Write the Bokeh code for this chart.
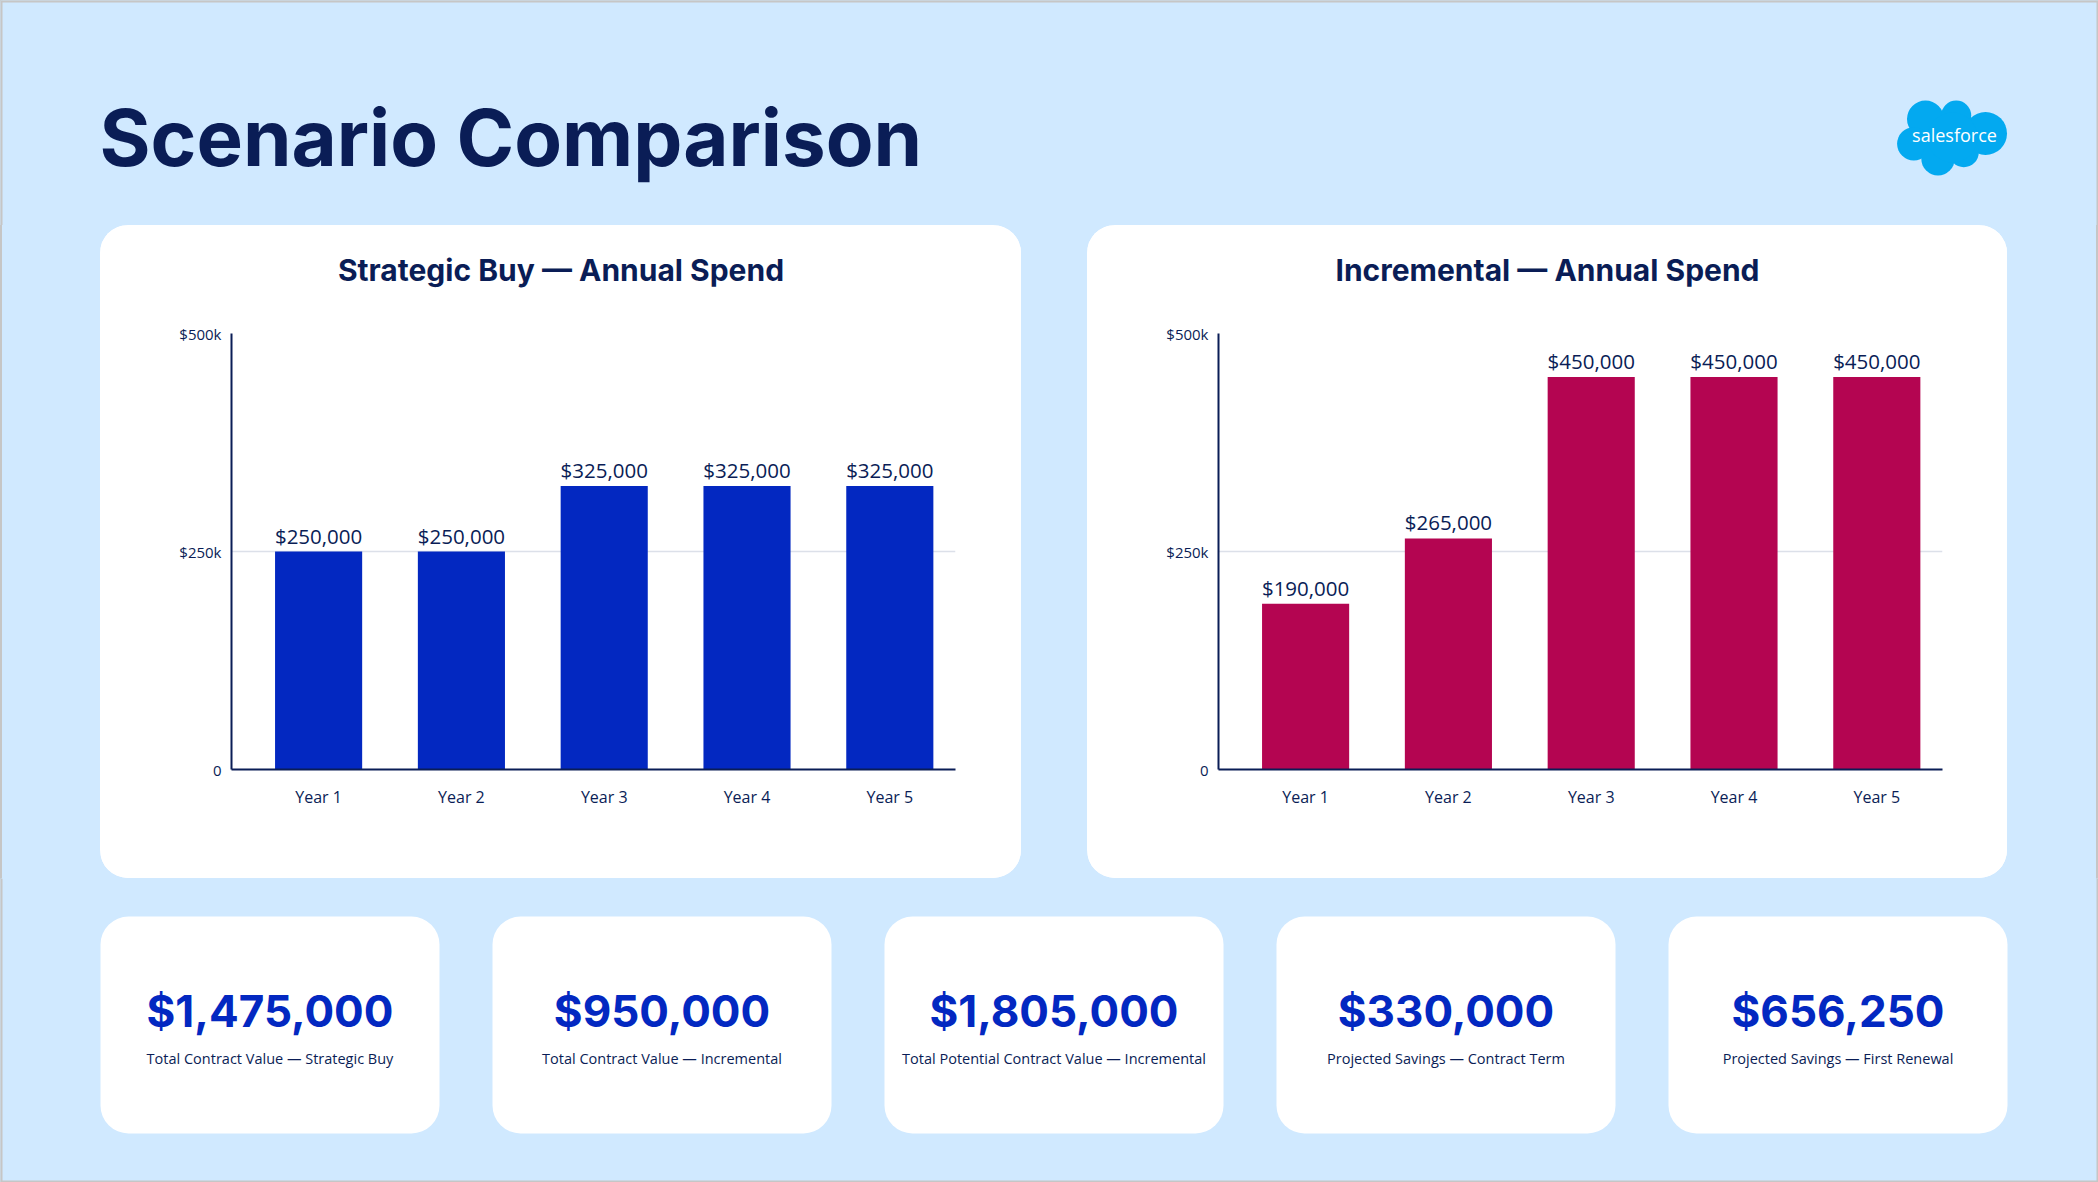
from bokeh.plotting import figure
from bokeh.layouts import column, row
from bokeh.models import Range1d, FixedTicker, Spacer, ColumnDataSource
from bokeh.embed import file_html
from bokeh.resources import INLINE
from bokeh.core.properties import value

# ---------------- data ----------------
years = ["Year 1", "Year 2", "Year 3", "Year 4", "Year 5"]
strategic_spend = [250000, 250000, 325000, 325000, 325000]
incremental_spend = [190000, 265000, 450000, 450000, 450000]
y_ticks = [0, 250000, 500000]
y_tick_labels = ["0", "$250k", "$500k"]
chart_titles = ["Strategic Buy — Annual Spend", "Incremental — Annual Spend"]
kpi_values = ["$1,475,000", "$950,000", "$1,805,000", "$330,000", "$656,250"]
kpi_labels = [
    "Total Contract Value — Strategic Buy",
    "Total Contract Value — Incremental",
    "Total Potential Contract Value — Incremental",
    "Projected Savings — Contract Term",
    "Projected Savings — First Renewal",
]
page_title = "Scenario Comparison"
logo_text = "salesforce"

# ---------------- styles ----------------
BG = "#D0E9FF"
NAVY = "#0A1D56"
BLUE = "#0328C1"
MAGENTA = "#B40551"
GRID = "#DCE0E9"
LOGO = "#03A9F0"
EDGE = "#C6C6C6"
HEAD = "Inter"
BODY = "Open Sans"
W, H = 2098, 1182
FRAME_L, FRAME_R = 131, 855   # plot frame inside each chart card (px)


def bare(width, height, xr, yr, fill):
    p = figure(width=width, height=height, x_range=xr, y_range=yr,
               x_axis_type=None, y_axis_type=None, min_border=0,
               output_backend="svg", toolbar_location=None)
    p.outline_line_color = None
    p.background_fill_color = fill
    p.border_fill_color = fill
    return p


# ---------------- header ----------------
header = bare(W, 225, Range1d(0, W), Range1d(225, 0), BG)
header.segment(x0=[1, 0, W - 1], y0=[0, 1, 0], x1=[1, W, W - 1], y1=[225, 1, 225],
               line_color=EDGE, line_width=2)
header.text(x=[99], y=[137], text=[page_title], text_font=value(HEAD),
            text_font_style="bold", text_font_size="78px", text_color=NAVY,
            text_baseline="middle", text_align="left")
lobe_x = [1925.0, 1955.7, 1985.0, 1913.3, 1937.5, 1963.3, 1952.0]
lobe_y = [118.5, 115.0, 133.0, 143.3, 158.3, 151.7, 137.0]
lobe_r = [18.5, 15.0, 21.5, 16.7, 16.7, 15.0, 25.0]
header.circle(x=lobe_x, y=lobe_y, radius=lobe_r, fill_color=LOGO, line_color=None)
header.text(x=[1954], y=[134], text=[logo_text], text_font=value(BODY),
            text_font_size="18px", text_color="white", text_align="center",
            text_baseline="middle")


# ---------------- chart cards ----------------
def chart_card(title, values, color, width):
    xs = list(range(len(years)))
    src = ColumnDataSource(dict(x=xs, top=values,
                                label=[f"${v:,}" for v in values]))
    # frame of this figure gets aligned with the chart frame below it,
    # so its x range is expressed in card pixels over that frame
    t = bare(width, 88, Range1d(FRAME_L, FRAME_R), Range1d(88, 0), "white")
    t.text(x=[width / 2], y=[44], text=[title], text_align="center",
           text_baseline="middle", text_font=value(HEAD),
           text_font_style="bold", text_font_size="30px", text_color=NAVY)

    p = figure(width=width, height=565, x_range=Range1d(-0.61, 4.46),
               y_range=Range1d(0, 500000), output_backend="svg",
               toolbar_location=None, min_border_left=FRAME_L,
               min_border_right=width - FRAME_R, min_border_top=20,
               min_border_bottom=109)
    p.outline_line_color = None
    p.background_fill_color = "white"
    p.border_fill_color = "white"
    p.vbar(x="x", top="top", width=0.61, source=src, fill_color=color,
           line_color=None)
    p.text(x="x", y="top", text="label", source=src, text_align="center",
           text_baseline="middle", y_offset=-16, text_font=value(BODY),
           text_font_size="20.5px", text_color=NAVY)
    p.xgrid.visible = False
    p.ygrid.ticker = FixedTicker(ticks=y_ticks)
    p.ygrid.grid_line_color = GRID
    p.ygrid.grid_line_width = 1.5
    p.yaxis.ticker = FixedTicker(ticks=y_ticks)
    p.yaxis.major_label_overrides = dict(zip(y_ticks, y_tick_labels))
    p.xaxis.ticker = FixedTicker(ticks=xs)
    p.xaxis.major_label_overrides = dict(zip(xs, years))
    for ax in (p.xaxis, p.yaxis):
        ax.axis_line_color = NAVY
        ax.axis_line_width = 2
        ax.major_tick_line_color = None
        ax.minor_tick_line_color = None
        ax.major_tick_out = 0
        ax.major_tick_in = 0
        ax.major_label_text_font = BODY
        ax.major_label_text_color = NAVY
    p.xaxis.major_label_text_font_size = "16px"
    p.xaxis.major_label_standoff = 16
    p.yaxis.major_label_text_font_size = "15px"
    p.yaxis.major_label_standoff = 10
    return column(t, p, width=width, height=653,
                  styles={"border-radius": "28px", "overflow": "hidden",
                          "background-color": "white"})


left = chart_card(chart_titles[0], strategic_spend, BLUE, 921)
right = chart_card(chart_titles[1], incremental_spend, MAGENTA, 920)
mid = row(Spacer(width=100, height=653), left, Spacer(width=66, height=653),
          right, Spacer(width=91, height=653), width=W, height=653)

# ---------------- KPI cards ----------------
n = len(kpi_values)
bottom = bare(W, 304, Range1d(0, W), Range1d(1182, 878), BG)
bottom.segment(x0=[1, 0, W - 1], y0=[878, 1181, 878], x1=[1, W, W - 1],
               y1=[1182, 1181, 1182], line_color=EDGE, line_width=2)
lefts = [100 + i * 392 for i in range(n)]
rights = [l + 339 for l in lefts]
centers = [l + 169.5 for l in lefts]
bottom.quad(left=lefts, right=rights, top=[916] * n, bottom=[1133] * n,
            fill_color="white", line_color=None, border_radius=28)
bottom.text(x=centers, y=[1010] * n, text=kpi_values, text_align="center",
            text_baseline="middle", text_font=value(HEAD),
            text_font_style="bold", text_font_size="44px", text_color=BLUE)
bottom.text(x=centers, y=[1058] * n, text=kpi_labels, text_align="center",
            text_baseline="middle", text_font=value(BODY),
            text_font_size="14.5px", text_color=NAVY)

page = column(header, mid, bottom, width=W, height=H,
              styles={"background-color": BG,
                      "outline": "2px solid " + EDGE,
                      "outline-offset": "-2px"})

open("out.html", "w").write(file_html(page, INLINE, title=page_title))
